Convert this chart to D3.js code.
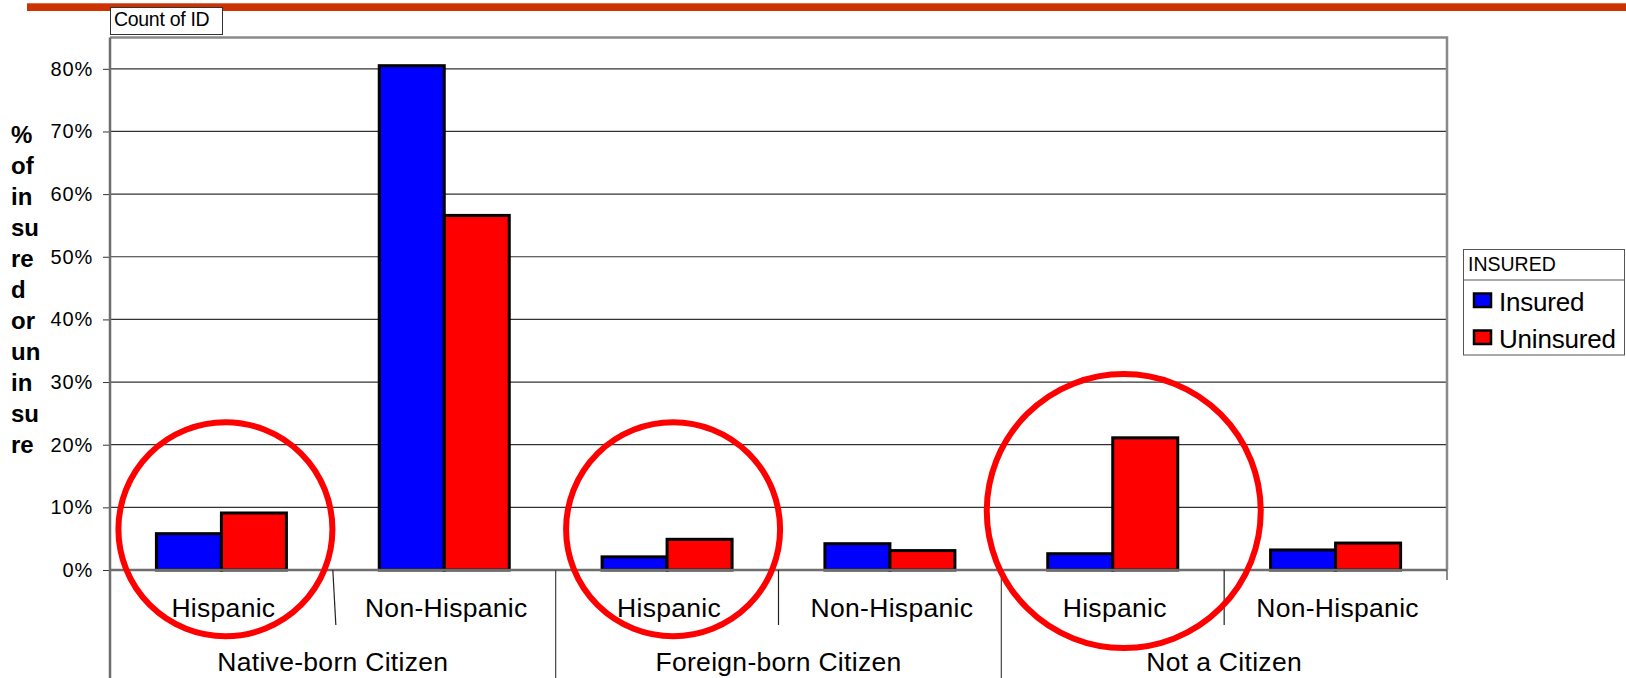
<!DOCTYPE html>
<html>
<head>
<meta charset="utf-8">
<script src="https://cdn.jsdelivr.net/npm/d3@7"></script>
<style>
    body { margin: 0; background: #fff; }
    svg { display: block; font-family: "Liberation Sans", Arial, sans-serif; }
</style>
</head>
<body>
<svg id="chart" width="1626" height="678"></svg>
<script>
// Chart data (percent of all insured / all uninsured)
const groups = ["Native-born Citizen", "Foreign-born Citizen", "Not a Citizen"];
const ethnicities = ["Hispanic", "Non-Hispanic"];
const seriesNames = ["Insured", "Uninsured"];
const insured = [5.8, 80.5, 2.1, 4.2, 2.6, 3.2];
const uninsured = [9.1, 56.6, 4.9, 3.1, 21.1, 4.3];
const yTicks = [0, 10, 20, 30, 40, 50, 60, 70, 80];
const yLabelLines = ["%", "of", "in", "su", "re", "d", "or", "un", "in", "su", "re"];

// highlighted categories (the red rings)
const highlights = [
    { key: "Native-born Citizen|Hispanic", dx: 4, yv: 6.5, r: 107 },
    { key: "Foreign-born Citizen|Hispanic", dx: 6, yv: 6.5, r: 107 },
    { key: "Not a Citizen|Hispanic", dx: 11, yv: 9.4, r: 137 }
];

const colors = { Insured: "#0000FF", Uninsured: "#FF0000" };

// flat rows, one per group/ethnicity
const rows = [];
groups.forEach((g, gi) => {
    ethnicities.forEach((e, ei) => {
        const i = gi * ethnicities.length + ei;
        rows.push({ key: g + "|" + e, group: g, eth: e, values: { Insured: insured[i], Uninsured: uninsured[i] } });
    });
});

const svg = d3.select("#chart");
const plot = { left: 110, right: 1447, top: 37.5, bottom: 570 };

const x0 = d3.scaleBand()
    .domain(rows.map(d => d.key))
    .range([plot.left, plot.right])
    .padding(0);

const x1 = d3.scaleBand()
    .domain(seriesNames)
    .range([0, x0.bandwidth()])
    .paddingInner(0)
    .paddingOuter(0.714);

const y = d3.scaleLinear()
    .domain([0, 85])
    .range([plot.bottom, plot.top]);

// top decoration bar
svg.append("rect")
    .attr("x", 27).attr("y", 3.3)
    .attr("width", 1626 - 27).attr("height", 7.7)
    .attr("fill", "#CC3300");

// gridlines
svg.append("g")
    .selectAll("line")
    .data(yTicks.filter(t => t > 0))
    .join("line")
    .attr("x1", plot.left).attr("x2", plot.right)
    .attr("y1", d => y(d)).attr("y2", d => y(d))
    .attr("stroke", "#333")
    .attr("stroke-width", 1.2);

// plot frame (top, right)
svg.append("path")
    .attr("d", `M${plot.left},${y(85)}H${plot.right}V${plot.bottom}`)
    .attr("fill", "none")
    .attr("stroke", "#8a8a8a")
    .attr("stroke-width", 2.5);

// y axis
const yAxis = svg.append("g")
    .attr("transform", `translate(${plot.left},0)`)
    .call(d3.axisLeft(y).tickValues(yTicks).tickSize(7).tickPadding(10).tickFormat(d => d + "%"));
yAxis.select(".domain").remove();
yAxis.selectAll(".tick line").attr("stroke", "#333");
yAxis.selectAll(".tick text")
    .attr("font-family", "Liberation Sans, Arial, sans-serif")
    .attr("font-size", 20)
    .attr("letter-spacing", 0.8)
    .attr("fill", "#000");

// bars
const barG = svg.append("g")
    .selectAll("g")
    .data(rows)
    .join("g")
    .attr("transform", d => `translate(${x0(d.key)},0)`);

barG.selectAll("rect")
    .data(d => seriesNames.map(s => ({ series: s, value: d.values[s] })))
    .join("rect")
    .attr("x", d => x1(d.series))
    .attr("y", d => y(d.value))
    .attr("width", x1.bandwidth())
    .attr("height", d => y(0) - y(d.value))
    .attr("fill", d => colors[d.series])
    .attr("stroke", "#000")
    .attr("stroke-width", 3);

// axis lines (left + baseline)
svg.append("line")
    .attr("x1", plot.left).attr("x2", plot.left)
    .attr("y1", y(85)).attr("y2", 678)
    .attr("stroke", "#6e6e6e").attr("stroke-width", 2.5);
svg.append("line")
    .attr("x1", plot.left).attr("x2", plot.right)
    .attr("y1", plot.bottom).attr("y2", plot.bottom)
    .attr("stroke", "#6e6e6e").attr("stroke-width", 2.5);

// category axis: sub dividers, group dividers, labels
const subDividers = rows.filter((d, i) => i % 2 === 0).map(d => x0(d.key) + x0.bandwidth());
svg.append("g")
    .selectAll("line")
    .data(subDividers)
    .join("line")
    .attr("x1", d => d).attr("x2", (d, i) => i === 0 ? d + 3 : d)
    .attr("y1", plot.bottom).attr("y2", 625)
    .attr("stroke", "#222").attr("stroke-width", 1.2);

const groupEdges = groups.map((g, gi) => x0(rows[gi * 2].key)).slice(1);
svg.append("g")
    .selectAll("line")
    .data(groupEdges)
    .join("line")
    .attr("x1", d => d).attr("x2", d => d)
    .attr("y1", plot.bottom).attr("y2", 678)
    .attr("stroke", "#444").attr("stroke-width", 1.2);

svg.append("line")
    .attr("x1", plot.right).attr("x2", plot.right)
    .attr("y1", plot.bottom).attr("y2", 580)
    .attr("stroke", "#444").attr("stroke-width", 1.2);

svg.append("g")
    .selectAll("text")
    .data(rows)
    .join("text")
    .attr("x", d => x0(d.key) + x0.bandwidth() / 2 + 2)
    .attr("y", 617)
    .attr("text-anchor", "middle")
    .attr("font-size", 26.5)
    .attr("letter-spacing", 0.3)
    .text(d => d.eth);

svg.append("g")
    .selectAll("text")
    .data(groups)
    .join("text")
    .attr("x", (g, gi) => x0(rows[gi * 2].key) + x0.bandwidth())
    .attr("y", 671)
    .attr("text-anchor", "middle")
    .attr("font-size", 26.5)
    .attr("letter-spacing", 0.3)
    .text(d => d);

// red rings
svg.append("g")
    .selectAll("circle")
    .data(highlights)
    .join("circle")
    .attr("cx", d => x0(d.key) + x0.bandwidth() / 2 + d.dx)
    .attr("cy", d => y(d.yv))
    .attr("r", d => d.r)
    .attr("fill", "none")
    .attr("stroke", "#FF0000")
    .attr("stroke-width", 6);

// "Count of ID" field button
svg.append("rect")
    .attr("x", 110.5).attr("y", 7.5)
    .attr("width", 112).attr("height", 27)
    .attr("fill", "#fff").attr("stroke", "#333").attr("stroke-width", 1);
svg.append("text")
    .attr("x", 114).attr("y", 26)
    .attr("font-size", 19.5)
    .attr("letter-spacing", -0.3)
    .text("Count of ID");

// vertical bold axis title, wrapped
svg.append("g")
    .selectAll("text")
    .data(yLabelLines)
    .join("text")
    .attr("x", 11)
    .attr("y", (d, i) => 143.3 + i * 31)
    .attr("font-size", 24)
    .attr("font-weight", "bold")
    .text(d => d);

// legend
const legend = svg.append("g").attr("transform", "translate(1463.5,249.5)");
legend.append("rect")
    .attr("width", 161).attr("height", 105.5)
    .attr("fill", "#fff").attr("stroke", "#555").attr("stroke-width", 1);
legend.append("line")
    .attr("x1", 0).attr("x2", 161)
    .attr("y1", 30.5).attr("y2", 30.5)
    .attr("stroke", "#555").attr("stroke-width", 1);
legend.append("text")
    .attr("x", 4.5).attr("y", 21)
    .attr("font-size", 19.5)
    .text("INSURED");

const item = legend.selectAll(".item")
    .data(seriesNames)
    .join("g")
    .attr("class", "item")
    .attr("transform", (d, i) => `translate(0,${43.5 + i * 37})`);
item.append("rect")
    .attr("x", 10.5).attr("y", 0.5)
    .attr("width", 17).attr("height", 13.5)
    .attr("fill", d => colors[d])
    .attr("stroke", "#000").attr("stroke-width", 2.5);
item.append("text")
    .attr("x", 35.5).attr("y", 18)
    .attr("font-size", 26)
    .attr("letter-spacing", -0.2)
    .text(d => d);
</script>
</body>
</html>
